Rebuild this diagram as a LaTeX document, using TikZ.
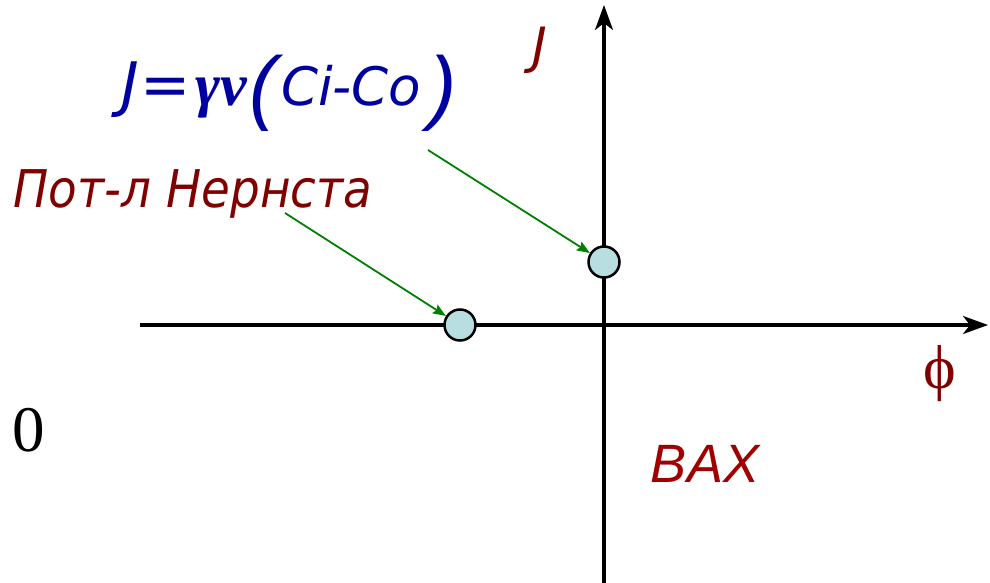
\documentclass[tikz,border=0pt]{standalone}
\usepackage{fontspec}
\usepackage{graphicx}
\setmainfont{DejaVu Sans}
\newfontfamily\timesfont{Liberation Serif}
\newfontfamily\arialfont{Liberation Sans}
\usetikzlibrary{arrows.meta}
\definecolor{darkred}{RGB}{128,0,0}
\definecolor{vaxred}{RGB}{160,0,0}
\definecolor{formblue}{RGB}{0,0,160}
\definecolor{dotfill}{RGB}{184,222,226}
\definecolor{arrgreen}{RGB}{0,128,0}
\newcommand{\bigparen}[1]{\raisebox{-9pt}{\fontsize{82}{82}\arialfont\itshape #1}}
\tikzset{
  axis/.style={line width=3.3pt,-{Stealth[length=25pt,width=18pt,inset=7pt]}},
  dot/.style={circle,draw,line width=2.5pt,fill=dotfill,minimum size=31pt,inner sep=0pt},
  pointer/.style={arrgreen,line width=1.8pt,-{Stealth[length=13pt,width=10pt,inset=2pt]}},
  lbl/.style={anchor=base,inner sep=0pt}
}
\begin{document}
\begin{tikzpicture}[x=1pt,y=-1pt]
\useasboundingbox (0,0) rectangle (990,583);
\draw[axis] (140,325) -- (988,325);
\draw[axis] (604,583) -- (604,5);
\node[dot] (jdot) at (604,262) {};
\node[dot] (ndot) at (460,325) {};
\coordinate (jtail) at (428,150);
\coordinate (ntail) at (285,213);
\draw[pointer] (jtail) -- (jdot);
\draw[pointer] (ntail) -- (ndot);
\node[lbl,formblue,font=\fontsize{60}{60}\selectfont\itshape] (flux) at (289,106)
  {J\hspace{2pt}=\hspace{4pt}{\timesfont\bfseries γv}\hspace{3pt}\bigparen{(}\hspace{4pt}{\fontsize{53}{53}\selectfont Ci-Co}\hspace{8pt}\bigparen{)}};
\node[lbl,darkred,font=\fontsize{52}{52}\selectfont\itshape] (nernst) at (193,207)
  {\scalebox{0.9}[1]{Пот-л Нернста}};
\node[lbl,darkred,font=\fontsize{50}{50}\selectfont\itshape] (jlabel) at (540,64) {J};
\node[lbl,darkred,font=\fontsize{62}{62}\timesfont] (philabel) at (940,388) {ϕ};
\node[lbl,font=\fontsize{65}{65}\timesfont] (zero) at (29,451) {0};
\node[lbl,vaxred,font=\fontsize{54}{54}\arialfont\itshape] (vax) at (705,482) {BAX};
\end{tikzpicture}
\end{document}
